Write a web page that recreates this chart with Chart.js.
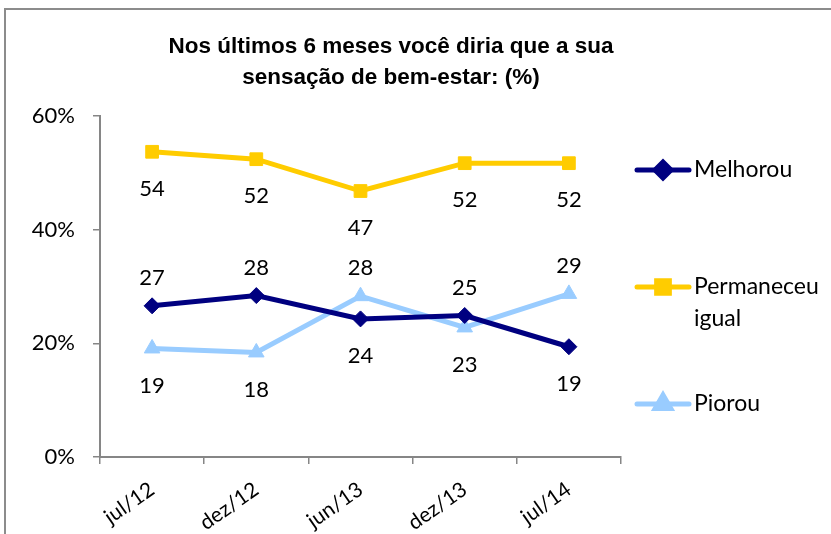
<!DOCTYPE html>
<html>
<head>
<meta charset="utf-8">
<script src="https://cdn.jsdelivr.net/npm/chart.js@4"></script>
<style>
  html, body { margin: 0; padding: 0; background: #fff; overflow: hidden; }
  #wrap { position: relative; width: 831px; height: 534px; }
  #frame { position: absolute; left: 4px; top: 8px; width: 900px; height: 600px; border: 2px solid #8c8c8c; box-sizing: border-box; }
  canvas { position: absolute; left: 0; top: 0; }
</style>
</head>
<body>
<div id="wrap">
  <div id="frame"></div>
  <canvas id="chart" width="831" height="534"></canvas>
</div>
<script>
// dados
const periodos = ['jul/12', 'dez/12', 'jun/13', 'dez/13', 'jul/14'];
const melhorou = [26.6, 28.4, 24.3, 24.9, 19.4];
const permaneceu = [53.7, 52.4, 46.8, 51.7, 51.7];
const piorou = [19.1, 18.4, 28.3, 22.8, 28.7];
const yTicks = [0, 20, 40, 60];

// onde fica o rótulo de cada ponto (acima / abaixo)
const posMelhorou = ['above', 'above', 'below', 'above', 'below'];
const posPermaneceu = ['below', 'below', 'below', 'below', 'below'];
const posPiorou = ['below', 'below', 'above', 'below', 'above'];

const fonte = 'Lato, "Open Sans", sans-serif';

const series = [
    { label: 'Melhorou', data: melhorou, pos: posMelhorou, color: '#000080', style: 'rectRot', radius: 8 },
    { label: ['Permaneceu', 'igual'], data: permaneceu, pos: posPermaneceu, color: '#FFCC00', style: 'rect', radius: 9 },
    { label: 'Piorou', data: piorou, pos: posPiorou, color: '#99CCFF', style: 'triangle', radius: 9 }
];

// título, rótulos de dados e legenda desenhados à mão
const extras = {
    id: 'extras',
    afterDatasetsDraw(chart) {
        const ctx = chart.ctx;
        ctx.save();
        // título
        ctx.fillStyle = '#000';
        ctx.font = 'bold 22.5px "Liberation Sans", Arial, sans-serif';
        ctx.textAlign = 'center';
        ctx.textBaseline = 'middle';
        ctx.fillText('Nos últimos 6 meses você diria que a sua', 391, 47);
        ctx.fillText('sensação de bem-estar: (%)', 391, 78);

        // rótulos
        ctx.font = '22px ' + fonte;
        series.forEach((s, i) => {
            const meta = chart.getDatasetMeta(i);
            meta.data.forEach((pt, j) => {
                const dy = s.pos[j] === 'above' ? -28 : 37;
                ctx.fillText(String(Math.round(s.data[j])), pt.x, pt.y + dy);
            });
        });

        // legenda
        ctx.font = '23px ' + fonte;
        const ys = [170, 287, 404];
        series.forEach((s, i) => {
            const y = ys[i];
            ctx.strokeStyle = s.color;
            ctx.lineWidth = 5;
            ctx.lineCap = 'round';
            ctx.beginPath();
            ctx.moveTo(637, y);
            ctx.lineTo(689, y);
            ctx.stroke();
            Chart.helpers.drawPoint(ctx, {
                pointStyle: s.style, radius: s.radius, rotation: 0, borderWidth: 1
            }, 663, y);
            ctx.fillStyle = s.color;
            ctx.fill();
            ctx.fillStyle = '#000';
            ctx.textAlign = 'left';
            const linhas = Array.isArray(s.label) ? s.label : [s.label];
            linhas.forEach((t, k) => ctx.fillText(t, 694, y + k * 32));
        });
        ctx.restore();
    }
};

new Chart(document.getElementById('chart'), {
    type: 'line',
    data: {
        labels: periodos,
        datasets: series.map(s => ({
            label: Array.isArray(s.label) ? s.label.join(' ') : s.label,
            data: s.data,
            borderColor: s.color,
            backgroundColor: s.color,
            borderWidth: 5,
            pointStyle: s.style,
            pointRadius: s.radius,
            pointHoverRadius: s.radius,
            pointBorderWidth: 1,
            tension: 0
        }))
    },
    options: {
        responsive: false,
        animation: false,
        layout: { padding: { top: 116, right: 210, left: 0, bottom: 0 } },
        plugins: {
            legend: { display: false },
            title: { display: false },
            tooltip: { enabled: false }
        },
        scales: {
            x: {
                offset: true,
                grid: { display: true, drawOnChartArea: false, offset: true, tickLength: 7, color: '#868686', lineWidth: 1.5 },
                border: { color: '#868686', width: 2 },
                ticks: { color: '#000', font: { family: fonte, size: 21 }, minRotation: 35, maxRotation: 35, padding: 13 },
                afterFit(scale) { scale.height = 77; }
            },
            y: {
                min: 0,
                max: 60,
                afterBuildTicks(scale) { scale.ticks = yTicks.map(v => ({ value: v })); },
                grid: { display: true, drawOnChartArea: false, tickLength: 7, color: '#868686', lineWidth: 1.5 },
                border: { color: '#868686', width: 2 },
                ticks: { color: '#000', font: { family: fonte, size: 22 }, padding: 18, callback: v => v + '%' },
                afterFit(scale) { scale.width = 100; }
            }
        }
    },
    plugins: [extras]
});
</script>
</body>
</html>
